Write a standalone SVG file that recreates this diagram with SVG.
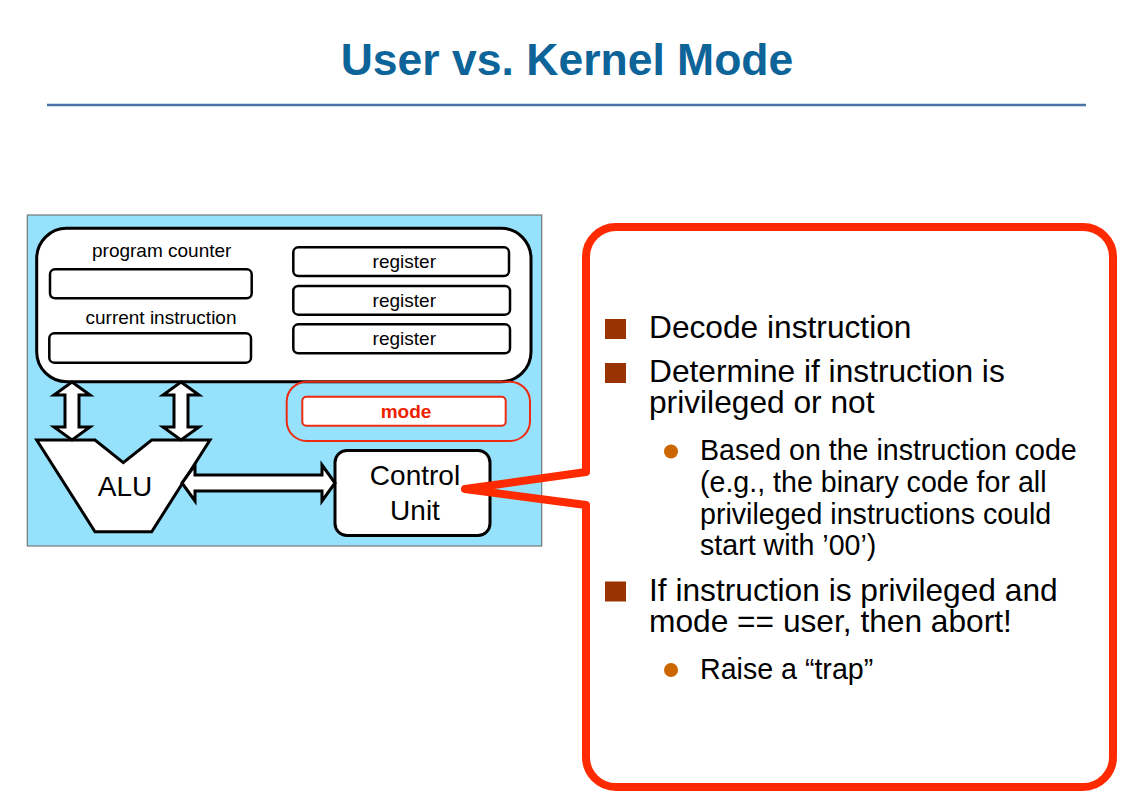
<svg xmlns="http://www.w3.org/2000/svg" width="1135" height="801" viewBox="0 0 1135 801">
<style>
text{font-family:"Liberation Sans",Arial,sans-serif;}
.box{fill:#fff;stroke:#000;stroke-width:2.5;}
.lbl{font-size:19px;fill:#000;text-anchor:middle;}
.big{font-size:28px;fill:#000;text-anchor:middle;}
.arrow{fill:#fff;stroke:#000;stroke-width:3;stroke-linejoin:miter;}
.b1{font-size:31.7px;fill:#000;}
.b2{font-size:28.6px;fill:#000;}
.sq{fill:#993300;}
.dot{fill:#cc6600;}
</style>
<rect width="1135" height="801" fill="#fff"/>
<g id="title">
<text x="567" y="75" text-anchor="middle" style="font-size:44.5px;font-weight:bold;fill:#0d6499;">User vs. Kernel Mode</text>
<line x1="47" y1="105" x2="1086" y2="105" stroke="#4a74a8" stroke-width="2.5"/>
</g>
<g id="cpu">
<rect x="27.3" y="215" width="514.4" height="331" fill="#96e1fb" stroke="#777" stroke-width="1.2"/>
</g>
<g id="registers-panel">
<rect x="36.7" y="228.3" width="494.3" height="153.4" rx="30" class="box" style="stroke-width:3"/>
</g>
<g id="program-counter">
<text x="161.7" y="256.7" class="lbl">program counter</text>
<rect x="50" y="269.3" width="201.7" height="29" rx="5" class="box"/>
</g>
<g id="current-instruction">
<text x="161" y="324" class="lbl">current instruction</text>
<rect x="49.3" y="333.3" width="201.7" height="29.4" rx="5" class="box"/>
</g>
<g id="register-1">
<rect x="293.3" y="247.3" width="215.7" height="28.7" rx="5" class="box"/>
<text x="404.3" y="268.3" class="lbl">register</text>
</g>
<g id="register-2">
<rect x="293.3" y="286" width="216.7" height="28.7" rx="5" class="box"/>
<text x="404.3" y="306.7" class="lbl">register</text>
</g>
<g id="register-3">
<rect x="293.3" y="324.3" width="216.7" height="29" rx="5" class="box"/>
<text x="404.3" y="345" class="lbl">register</text>
</g>
<g id="mode">
<rect x="286.7" y="381.7" width="243.3" height="59.3" rx="20" fill="none" stroke="#ee2a10" stroke-width="2"/>
<rect x="302.3" y="396.7" width="203.4" height="29" rx="4" fill="#fff" stroke="#ee2a10" stroke-width="2"/>
<text x="406" y="418.3" text-anchor="middle" style="font-size:19px;font-weight:bold;fill:#ee2200;">mode</text>
</g>
<g id="alu">
<polygon points="36.7,440 95,440 123.3,462.7 151.7,440 210,440 151.7,531.7 95,531.7" class="box" style="stroke-width:3;stroke-linejoin:miter"/>
<text x="125" y="496" class="big">ALU</text>
</g>
<g id="control-unit">
<rect x="335" y="450.5" width="155" height="85" rx="12" class="box" style="stroke-width:3"/>
<text x="415" y="485" class="big">Control</text>
<text x="415" y="520" class="big">Unit</text>
</g>
<g id="connectors">
<polygon class="arrow" points="72,382 90,395 79,395 79,427 90,427 72,440 54,427 65,427 65,395 54,395"/>
<polygon class="arrow" points="181,382 199,395 188,395 188,427 199,427 181,440 163,427 174,427 174,395 163,395"/>
<polygon class="arrow" points="182,483 195,465 195,475 322,475 322,465 335,483 322,501 322,491 195,491 195,501"/>
</g>
<g id="callout">
<path d="M616,227 H1083 A30,30 0 0 1 1113,257 V757 A30,30 0 0 1 1083,787 H616 A30,30 0 0 1 586,757 V505 L465,489 L586,472 V257 A30,30 0 0 1 616,227 Z" fill="none" stroke="#ff2a00" stroke-width="8" stroke-linejoin="round"/>
<rect x="605" y="319" width="21" height="20" class="sq"/>
<text x="649" y="338" class="b1">Decode instruction</text>
<rect x="605" y="363" width="21" height="20" class="sq"/>
<text x="649" y="382" class="b1">Determine if instruction is</text>
<text x="649" y="413" class="b1">privileged or not</text>
<circle cx="671" cy="451.5" r="7" class="dot"/>
<text x="700" y="460" class="b2">Based on the instruction code</text>
<text x="700" y="492" class="b2">(e.g., the binary code for all</text>
<text x="700" y="523.5" class="b2">privileged instructions could</text>
<text x="700" y="555" class="b2">start with ’00’)</text>
<rect x="605" y="581.5" width="21" height="20" class="sq"/>
<text x="649" y="600.5" class="b1">If instruction is privileged and</text>
<text x="649" y="632" class="b1">mode == user, then abort!</text>
<circle cx="671" cy="670" r="7" class="dot"/>
<text x="700" y="678.5" class="b2">Raise a “trap”</text>
</g>
</svg>
